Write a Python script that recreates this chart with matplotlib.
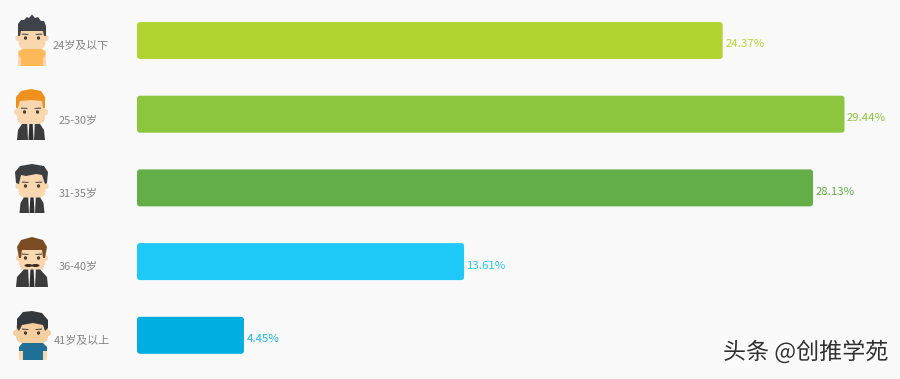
import matplotlib
matplotlib.use("Agg")
import matplotlib.pyplot as plt
import matplotlib.patheffects as pe
from matplotlib.patches import FancyBboxPatch, Ellipse, Polygon

plt.rcParams['font.family'] = ['Noto Sans CJK SC', 'DejaVu Sans']

categories = ['24岁及以下', '25-30岁', '31-35岁', '36-40岁', '41岁及以上']
values = [24.37, 29.44, 28.13, 13.61, 4.45]
bar_colors = ['#b2d430', '#8cc63e', '#63ae47', '#1fc9f7', '#00aee2']
text_colors = ['#b2d430', '#8cc63e', '#63ae47', '#1fc9f7', '#14b7e3']
label_x = [80.5, 78, 78, 78, 81.5]
label_y = [46, 120.5, 193.5, 266, 340.5]
BG = '#f9f9f9'

W, H = 900, 379
fig = plt.figure(figsize=(W / 100, H / 100), dpi=100, facecolor=BG)
ax = fig.add_axes([0, 0, 1, 1], facecolor=BG)
px_per_unit = (844.5 - 137) / 29.44
ax.set_xlim(-137 / px_per_unit, (W - 137) / px_per_unit)
row = 73.7
ax.set_ylim((H - 40.5) / row, -40.5 / row)
ax.axis('off')

bars = ax.barh(range(len(values)), values, height=37 / row, color='none')
for bar, c, v, tc in zip(bars, bar_colors, values, text_colors):
    rx, ry = 3 / px_per_unit, 3 / row
    x0, y0, w, h = bar.get_x(), bar.get_y(), bar.get_width(), bar.get_height()
    ax.add_patch(FancyBboxPatch((x0 + rx, y0 + ry), w - 2 * rx, h - 2 * ry,
                                boxstyle=f'round,pad={rx},rounding_size={rx}',
                                mutation_aspect=ry / rx, fc=c, ec='none'))
    ax.annotate(f'{v:.2f}%', (x0 + w, y0 + h / 2), xytext=(2.5, -4),
                textcoords='offset pixels', color=tc, fontsize=8.2,
                va='center', ha='left')

ov = fig.add_axes([0, 0, 1, 1], facecolor='none')
ov.set_xlim(0, W)
ov.set_ylim(H, 0)
ov.axis('off')

for name, lx, ly in zip(categories, label_x, label_y):
    ov.text(lx, ly, name, color='#828282', fontsize=7.9, ha='center', va='center')

SKIN = '#f8d7ae'
def ell(cx, cy, w, h, c, z=3):
    ov.add_patch(Ellipse((cx, cy), w, h, fc=c, ec='none', zorder=z))
def rect(x, y, w, h, c, z=3, r=1.5):
    ov.add_patch(FancyBboxPatch((x + r, y + r), w - 2 * r, h - 2 * r,
                                boxstyle=f'round,pad={r},rounding_size={r}',
                                fc=c, ec='none', zorder=z))
def poly(pts, c, z=3):
    ov.add_patch(Polygon(pts, closed=True, fc=c, ec='none', zorder=z))
def face(cx, cy, w=24, h=24, ew=1.6, brow='#555555', skin=SKIN):
    ell(cx - w / 2 - 0.5, cy + 1, 5, 6, skin, 4)
    ell(cx + w / 2 + 0.5, cy + 1, 5, 6, skin, 4)
    rect(cx - w / 2, cy - h / 2, w, h, skin, 4, 7)
    for s in (-1, 1):
        ell(cx + s * 6.5, cy + 1, ew * 2, ew * 2.2, '#4a3a30', 6)
        poly([(cx + s * 3.5, cy - 3), (cx + s * 10, cy - 3.5),
              (cx + s * 10, cy - 2.2), (cx + s * 3.5, cy - 2)], brow, 6)

def suit(cx, top, bot, w=32):
    poly([(cx - 5, top), (cx + 5, top), (cx + w / 2 - 1, bot - 10), (cx + w / 2, bot),
          (cx - w / 2, bot), (cx - w / 2 + 1, bot - 10)], '#3c3c3c', 3)
    poly([(cx - 4, top), (cx + 4, top), (cx + 3, bot), (cx - 3, bot)], '#f5f5f5', 3.5)
    poly([(cx - 1.5, top + 2), (cx + 1.5, top + 2), (cx + 2.5, bot), (cx - 2.5, bot)], '#2e2e2e', 3.6)

# avatar 1
cx = 32
rect(18, 50, 6, 16, SKIN, 2.5)
rect(40, 50, 6, 16, SKIN, 2.5)
poly([(24, 47), (40, 47), (46, 53), (43, 58), (43, 66), (21, 66), (21, 58), (18, 53)], '#fdb857', 3)
face(cx, 37, 27, 24)
poly([(18, 36), (18, 24), (21, 20), (24, 20), (27, 17), (29, 18), (32, 14.5), (35, 18), (38, 17),
      (41, 21), (44, 21), (46, 26), (46, 36), (44, 36), (43, 31), (21, 31), (20, 36)], '#3d4348', 5)

# avatar 2
cx = 31
suit(cx, 118, 140, 28)
face(cx, 111, 28, 26)
poly([(16, 108), (16, 97), (21, 91), (31, 89), (41, 91), (45, 97), (45, 108), (43, 108),
      (42, 101), (31, 100), (20, 101), (18, 108)], '#f0901e', 5)

# avatar 3
cx = 32
suit(cx, 192, 213, 25)
face(cx, 185, 27, 25)
poly([(16, 183), (15, 172), (20, 166), (32, 164), (44, 166), (48, 172), (47, 183), (45, 184),
      (42, 175), (36, 174), (26, 176), (21, 175), (19, 184)], '#3c3f42', 5)

# avatar 4
cx = 32
suit(cx, 266, 287, 32)
face(cx, 257, 26, 25)
poly([(19, 258), (17, 247), (21, 240), (32, 237), (43, 240), (47, 247), (45, 258), (43, 258),
      (42, 250), (22, 250), (21, 258)], '#7a4c24', 5)
ell(cx - 3.5, 265.5, 8, 3, '#3a2a20', 6)
ell(cx + 3.5, 265.5, 8, 3, '#3a2a20', 6)

# avatar 5
cx = 32
rect(19, 346, 5, 14, SKIN, 2.5)
rect(42, 346, 5, 14, SKIN, 2.5)
poly([(25, 340), (40, 340), (47, 347), (47, 351), (43, 351), (43, 360), (23, 360), (23, 351),
      (19, 351), (19, 347)], '#1f6f96', 3)
face(cx, 332, 32, 22, skin='#f6cfa0')
poly([(17, 328), (17, 319), (23, 312), (32, 311), (42, 313), (48, 320), (48, 328), (45, 331),
      (43, 325), (33, 323), (22, 325), (19, 331)], '#33383c', 5)

ov.text(805.5, 352, '头条 @创推学苑', color='#2f2f2f', fontsize=16.6, ha='center', va='center',
        path_effects=[pe.withStroke(linewidth=1.4, foreground='#ffffff')], zorder=10)

fig.savefig('out.png', dpi=100, facecolor=BG)
